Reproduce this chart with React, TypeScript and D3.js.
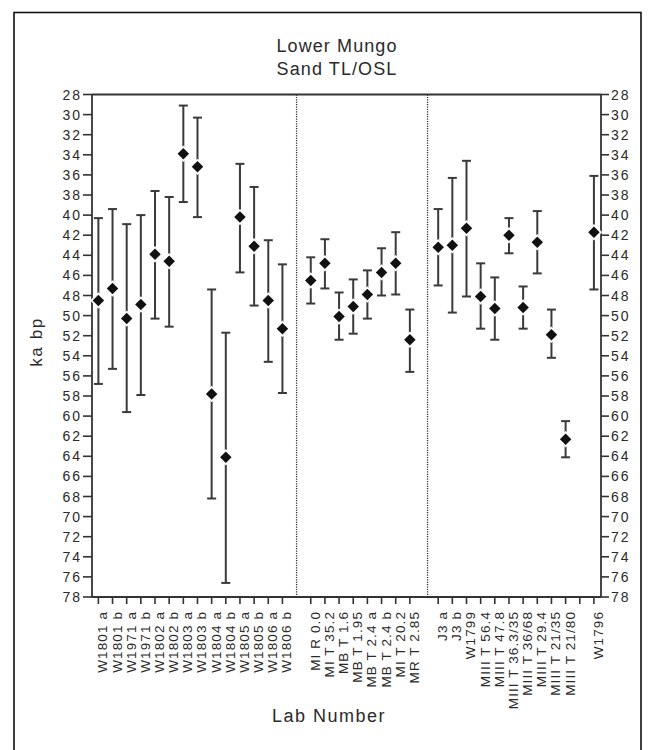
import * as d3 from 'd3'

// lab numbers, one per sample, in plotting order
const labNumbers = [
  'W1801 a', 'W1801 b', 'W1971 a', 'W1971 b', 'W1802 a', 'W1802 b', 'W1803 a',
  'W1803 b', 'W1804 a', 'W1804 b', 'W1805 a', 'W1805 b', 'W1806 a', 'W1806 b',
  'MI R 0.0', 'MI T 35.2', 'MB T 1.6', 'MB T 1.95', 'MB T 2.4 a', 'MB T 2.4 b',
  'MI T 20.2', 'MR T 2.85',
  'J3 a', 'J3 b', 'W1799', 'MIII T 56.4', 'MIII T 47.8', 'MIII T 36.3/35',
  'MIII T 36/68', 'MIII T 29.4', 'MIII T 21/35', 'MIII T 21/80',
  'W1796',
]
// how many samples in each block; blocks are separated by one empty slot
const groupSizes = [14, 8, 10, 1]

// ages (ka bp) and error bar limits
const ages = [
  48.5, 47.3, 50.3, 48.9, 43.9, 44.6, 33.9, 35.2, 57.8, 64.1, 40.2, 43.1, 48.5, 51.3,
  46.5, 44.8, 50.1, 49.1, 47.9, 45.7, 44.8, 52.4,
  43.2, 43.0, 41.3, 48.1, 49.3, 42.0, 49.2, 42.7, 51.9, 62.3,
  41.7,
]
const ageMin = [
  40.3, 39.4, 40.9, 40.0, 37.6, 38.2, 29.1, 30.3, 47.4, 51.7, 34.9, 37.2, 42.5, 44.9,
  44.2, 42.4, 47.7, 46.4, 45.5, 43.3, 41.7, 49.4,
  39.4, 36.3, 34.6, 44.8, 46.2, 40.3, 47.1, 39.6, 49.4, 60.5,
  36.1,
]
const ageMax = [
  56.8, 55.3, 59.6, 57.9, 50.3, 51.1, 38.7, 40.2, 68.2, 76.6, 45.7, 49.0, 54.6, 57.7,
  48.8, 47.3, 52.4, 51.8, 50.3, 48.0, 47.9, 55.6,
  47.0, 49.7, 48.1, 51.3, 52.4, 43.8, 51.3, 45.8, 54.2, 64.1,
  47.4,
]
const yTicks = d3.range(28, 79, 2)

const W = 653
const H = 750
const font = 'Liberation Sans, Arial, Helvetica, sans-serif'
const ink = '#2a2a2a'

// slot index for each sample
const slots: number[] = []
let s = 0
groupSizes.forEach((n) => {
  for (let i = 0; i < n; i++) slots.push(s++)
  s++
})
const totalSlots = s - 1
const dividers = [groupSizes[0], groupSizes[0] + groupSizes[1] + 1.25]
const gapSlots = [groupSizes[0] + groupSizes[1] + groupSizes[2] + 2]

const x = d3.scaleLinear().domain([-0.45, totalSlots - 0.5]).range([92, 601])
const y = d3.scaleLinear().domain([28, 78]).range([94.5, 597])

const diamond = d3.symbol(d3.symbolSquare, 66)()
const diamondBack = d3.symbol(d3.symbolSquare, 135)()

export default function App() {
  const [x0, x1] = x.range()
  const [y0, y1] = y.range()
  const tickSlots = [...slots, ...gapSlots]
  return (
    <svg
      width={W}
      height={H}
      style={{ position: 'absolute', left: 0, top: 0, background: '#fff' }}
      fontFamily={font}
    >
      <rect x={14} y={12.5} width={627} height={760} fill="none" stroke="#111" strokeWidth={1.6} />

      <text x={337} y={52} textAnchor="middle" fontSize={18} letterSpacing={1.1} fill={ink}>
        Lower Mungo
      </text>
      <text x={337} y={75} textAnchor="middle" fontSize={18} letterSpacing={1.1} fill={ink}>
        Sand TL/OSL
      </text>

      {/* dotted dividers between sample blocks */}
      {dividers.map((d) => (
        <line key={d} x1={x(d)} x2={x(d)} y1={y0} y2={y1} stroke="#333" strokeWidth={1.3} strokeDasharray="1.2,1.2" />
      ))}

      {/* frame of the plot */}
      <line x1={x0} x2={x1} y1={y0} y2={y0} stroke="#333" strokeWidth={1.8} />
      <line x1={x0} x2={x1} y1={y1} y2={y1} stroke="#333" strokeWidth={1.8} />
      <line x1={x0} x2={x0} y1={y0} y2={y1} stroke="#333" strokeWidth={1.8} />
      <line x1={x1} x2={x1} y1={y0} y2={y1} stroke="#333" strokeWidth={1.8} />

      {yTicks.map((t) => (
        <g key={t} fill={ink} fontSize={14} letterSpacing={2}>
          <line x1={x0 - 9} x2={x0} y1={y(t)} y2={y(t)} stroke="#333" strokeWidth={1.6} />
          <line x1={x1} x2={x1 + 8} y1={y(t)} y2={y(t)} stroke="#333" strokeWidth={1.6} />
          <text x={x0 - 10} y={y(t)} dy="0.36em" textAnchor="end">{t}</text>
          <text x={x1 + 10} y={y(t)} dy="0.36em">{t}</text>
        </g>
      ))}

      {tickSlots.map((k) => (
        <line key={k} x1={x(k)} x2={x(k)} y1={y1} y2={y1 + 7} stroke="#333" strokeWidth={1.6} />
      ))}
      {labNumbers.map((lab, i) => (
        <text
          key={lab}
          transform={`translate(${x(slots[i])},${y1 + 14}) rotate(-90)`}
          y={9}
          textAnchor="end"
          fontSize={13.5}
          letterSpacing={1.1}
          fill={ink}
        >
          {lab}
        </text>
      ))}

      {/* error bars and ages */}
      {ages.map((a, i) => {
        const cx = x(slots[i])
        return (
          <g key={labNumbers[i]}>
            <line x1={cx} x2={cx} y1={y(ageMin[i])} y2={y(ageMax[i])} stroke="#3a3a3a" strokeWidth={2} />
            <line x1={cx - 4.5} x2={cx + 4.5} y1={y(ageMin[i])} y2={y(ageMin[i])} stroke="#3a3a3a" strokeWidth={2} />
            <line x1={cx - 4.5} x2={cx + 4.5} y1={y(ageMax[i])} y2={y(ageMax[i])} stroke="#3a3a3a" strokeWidth={2} />
            <path d={diamondBack ?? ''} transform={`translate(${cx},${y(a)}) rotate(45)`} fill="#fff" />
            <path d={diamond ?? ''} transform={`translate(${cx},${y(a)}) rotate(45)`} fill="#111" />
          </g>
        )
      })}

      <text
        transform={`translate(42,342) rotate(-90)`}
        textAnchor="middle"
        fontSize={17}
        letterSpacing={1.6}
        fill={ink}
      >
        ka bp
      </text>
      <text x={329} y={722} textAnchor="middle" fontSize={18} letterSpacing={1.5} fill={ink}>
        Lab Number
      </text>
    </svg>
  )
}
